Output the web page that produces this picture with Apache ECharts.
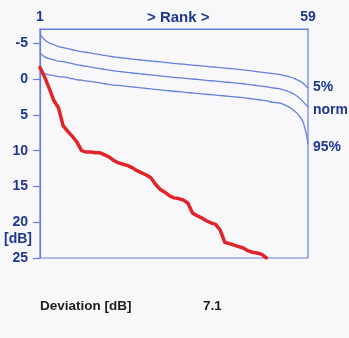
<!DOCTYPE html>
<html><head><meta charset="utf-8">
<script src="https://cdn.jsdelivr.net/npm/echarts@6/dist/echarts.min.js"></script>
<style>html,body{margin:0;padding:0;background:#f8f8fb;}#c{width:349px;height:338px;}</style>
</head><body><div id="c"></div>
<script>
const ranks = Array.from({length:59},(_,i)=>i+1);
const yTicks = [-5,0,5,10,15,20,25];
const xTicks = [1,59];
const p5 = [-6.3,-5.5,-5.05,-4.8,-4.55,-4.4,-4.25,-4.1,-3.95,-3.85,-3.75,-3.62,-3.52,-3.42,-3.3,-3.2,-3.1,-3.02,-2.95,-2.88,-2.8,-2.73,-2.66,-2.6,-2.53,-2.46,-2.4,-2.33,-2.27,-2.2,-2.14,-2.08,-2.02,-1.96,-1.9,-1.84,-1.78,-1.72,-1.66,-1.6,-1.54,-1.48,-1.42,-1.36,-1.3,-1.22,-1.14,-1.05,-0.96,-0.88,-0.8,-0.72,-0.63,-0.47,-0.3,-0.08,0.22,0.62,1.3];
const norm = [-3.7,-3.1,-2.85,-2.7,-2.5,-2.45,-2.3,-2.15,-2.0,-1.9,-1.8,-1.67,-1.57,-1.47,-1.35,-1.25,-1.15,-1.07,-1.0,-0.93,-0.85,-0.78,-0.71,-0.65,-0.58,-0.51,-0.45,-0.38,-0.32,-0.25,-0.19,-0.13,-0.07,-0.01,0.05,0.11,0.17,0.23,0.29,0.35,0.41,0.47,0.53,0.59,0.65,0.73,0.81,0.9,0.99,1.07,1.2,1.28,1.37,1.58,1.8,2.12,2.57,3.22,3.9];
const p95 = [-1.05,-0.75,-0.6,-0.5,-0.35,-0.3,-0.2,-0.05,0.1,0.15,0.25,0.33,0.43,0.53,0.65,0.75,0.85,0.88,0.95,1.02,1.1,1.17,1.24,1.3,1.37,1.44,1.5,1.57,1.63,1.7,1.76,1.82,1.88,1.94,2.0,2.06,2.12,2.18,2.24,2.3,2.36,2.42,2.48,2.54,2.6,2.68,2.76,2.85,2.94,3.02,3.2,3.28,3.37,3.63,3.95,4.42,5.07,6.12,9.0];
const measured = [-1.6,-0.3,1.3,3.0,4.0,6.5,7.3,8.0,8.8,10.0,10.2,10.2,10.3,10.3,10.6,10.9,11.4,11.7,11.9,12.1,12.4,12.8,13.1,13.4,13.8,14.7,15.4,15.8,16.3,16.6,16.7,16.9,17.3,18.7,19.1,19.4,19.8,20.1,20.3,21.1,22.8,23.0,23.2,23.4,23.6,24.0,24.2,24.3,24.5,25.0];
const deviation = '7.1';

const BLUE = '#6480dc', TXT = '#1d3790', FONT = '"Liberation Sans", Arial, sans-serif';
const pair = arr => arr.map((v,i)=>[ranks[i], v]);
function curve(name, arr, label, off){
  return {type:'line', name, data:pair(arr), symbol:'none', smooth:true, silent:true,
    lineStyle:{color:BLUE, width:1.3},
    endLabel:{show:true, formatter:label, color:TXT, fontFamily:FONT, fontWeight:'bold', fontSize:14, distance:5, offset:off}};
}
const chart = echarts.init(document.getElementById('c'), null, {renderer:'canvas'});
chart.setOption({
  backgroundColor:'#f8f8fb',
  animation:false,
  grid:{left:40, right:41, top:29, bottom:80, show:true, borderColor:BLUE, borderWidth:1.2, backgroundColor:'transparent'},
  xAxis:{type:'value', position:'top', min:1, max:59,
    axisLine:{show:true, onZero:false, lineStyle:{color:BLUE, width:1.2}},
    axisTick:{show:false}, splitLine:{show:false},
    axisLabel:{customValues:xTicks, color:TXT, fontFamily:FONT, fontWeight:'bold', fontSize:14, margin:5}},
  yAxis:{type:'value', inverse:true, min:-7, max:25,
    axisLine:{show:true, onZero:false, lineStyle:{color:BLUE, width:1.2}},
    axisTick:{show:true, customValues:yTicks, length:7, lineStyle:{color:BLUE, width:1.2}},
    splitLine:{show:false},
    axisLabel:{customValues:yTicks, color:TXT, fontFamily:FONT, fontWeight:'bold', fontSize:14, margin:12}},
  graphic:[
    {type:'text', left:147, top:10, style:{text:'> Rank >', fill:TXT, font:'bold 15px '+FONT}},
    {type:'text', left:4, top:232, style:{text:'[dB]', fill:TXT, font:'bold 14px '+FONT}},
    {type:'text', left:40, top:299, style:{text:'Deviation [dB]', fill:'#1e1e1e', font:'bold 13.5px '+FONT}},
    {type:'text', left:203, top:299, style:{text:deviation, fill:'#1e1e1e', font:'bold 13.5px '+FONT}}
  ],
  series:[
    curve('5%', p5, '5%', [0,-1]),
    curve('norm', norm, 'norm', [0,3]),
    curve('95%', p95, '95%', [0,4]),
    {type:'line', name:'measured', data:pair(measured), symbol:'none', silent:true,
     lineStyle:{color:'#e0242a', width:3.5, join:'round', cap:'round'}, z:5}
  ]
});
</script></body></html>
